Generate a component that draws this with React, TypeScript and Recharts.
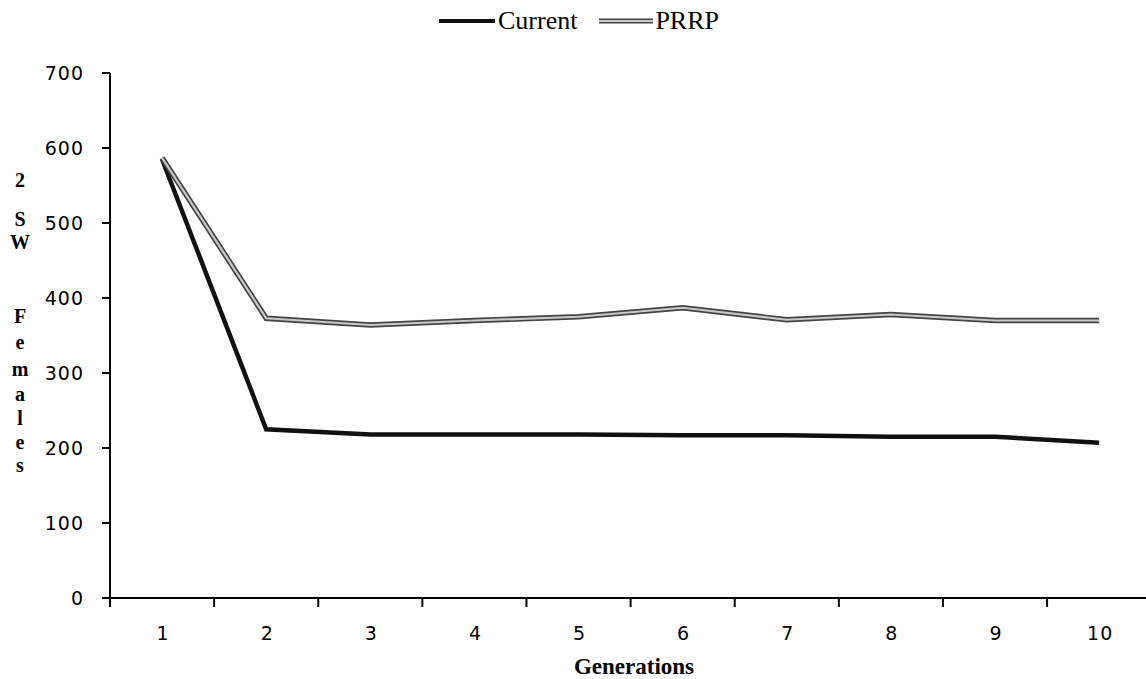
import React from 'react';
import { LineChart, Line, XAxis, YAxis, Legend } from 'recharts';

const generations = [1, 2, 3, 4, 5, 6, 7, 8, 9, 10];
const current = [585, 225, 218, 218, 218, 217, 217, 215, 215, 207];
const prrp = [587, 373, 364, 370, 375, 387, 371, 378, 370, 370];
const yTicks = [0, 100, 200, 300, 400, 500, 600, 700];
const yLabelLetters = ['2', 'S', 'W', 'F', 'e', 'm', 'a', 'l', 'e', 's'];
const yLabelOffsets = [187, 226, 249, 323, 349, 376, 401, 425, 449, 472];

const data = generations.map((g, i) => ({ gen: g, current: current[i], prrp: prrp[i] }));
const xTicks = [...generations.map((g) => g - 0.5), ...generations];

const tickFont = { fontFamily: 'DejaVu Sans', fontSize: 19, letterSpacing: 1, fill: '#000' };

function XTick(props: any) {
  const { x, y, payload } = props;
  const v = payload.value;
  if (Number.isInteger(v)) {
    return (
      <text x={x + 1} y={y + 42} textAnchor="middle" style={tickFont}>
        {v}
      </text>
    );
  }
  return <line x1={x} x2={x} y1={y} y2={y + 9} stroke="#000" strokeWidth={2} />;
}

function YLabel() {
  return (
    <text
      textAnchor="middle"
      style={{ fontFamily: 'Liberation Serif', fontWeight: 700, fontSize: 20, fill: '#000' }}
    >
      {yLabelLetters.map((c, i) => (
        <tspan key={i} x={20} y={yLabelOffsets[i]}>
          {c}
        </tspan>
      ))}
    </text>
  );
}

function LegendContent() {
  const text = { fontFamily: 'Liberation Serif', fontSize: 26, color: '#000' };
  return (
    <div style={{ display: 'flex', justifyContent: 'center', alignItems: 'center', paddingLeft: 12 }}>
      <svg width={56} height={10}>
        <line x1={0} x2={56} y1={5} y2={5} stroke="#111" strokeWidth={4} />
      </svg>
      <span style={{ ...text, marginLeft: 3, marginRight: 22 }}>Current</span>
      <svg width={54} height={10}>
        <line x1={0} x2={54} y1={5} y2={5} stroke="#444" strokeWidth={5} />
        <line x1={0} x2={54} y1={5} y2={5} stroke="#c9c9c9" strokeWidth={2} />
      </svg>
      <span style={{ ...text, marginLeft: 2 }}>PRRP</span>
    </div>
  );
}

export default function App() {
  return (
    <div style={{ position: 'absolute', left: 0, top: 0, background: '#fff' }}>
      <LineChart
        width={1146}
        height={679}
        data={data}
        margin={{ top: 73, right: 0, bottom: 0, left: 0 }}
      >
        <XAxis
          dataKey="gen"
          type="number"
          domain={[0.5, 10.45]}
          ticks={xTicks}
          interval={0}
          height={81}
          tickSize={0}
          tickMargin={0}
          tickLine={false}
          tick={<XTick />}
          axisLine={{ stroke: '#000', strokeWidth: 2 }}
          allowDataOverflow
        />
        <YAxis
          domain={[0, 700]}
          ticks={yTicks}
          interval={0}
          width={110}
          tickSize={8}
          tickMargin={18}
          tick={tickFont}
          tickLine={{ stroke: '#000', strokeWidth: 2 }}
          axisLine={{ stroke: '#000', strokeWidth: 2 }}
          label={<YLabel />}
        />
        <Legend
          layout="horizontal"
          verticalAlign="middle"
          align="center"
          wrapperStyle={{ top: 6, left: 0, width: 1146 }}
          content={<LegendContent />}
        />
        <Line
          dataKey="current"
          stroke="#111"
          strokeWidth={4.5}
          dot={false}
          isAnimationActive={false}
        />
        <Line
          dataKey="prrp"
          stroke="#444"
          strokeWidth={5.5}
          dot={false}
          isAnimationActive={false}
          legendType="none"
        />
        <Line
          dataKey="prrp"
          stroke="#c9c9c9"
          strokeWidth={2.2}
          dot={false}
          isAnimationActive={false}
          legendType="none"
        />
      </LineChart>
      <div
        style={{
          position: 'absolute',
          left: 0,
          top: 654,
          width: 1146,
          textAlign: 'center',
          paddingLeft: 122,
          boxSizing: 'border-box',
          fontFamily: 'Liberation Serif',
          fontWeight: 700,
          fontSize: 23,
        }}
      >
        Generations
      </div>
    </div>
  );
}
